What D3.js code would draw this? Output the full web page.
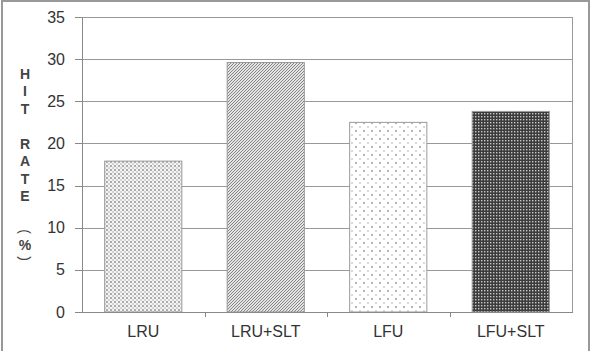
<!DOCTYPE html>
<html lang="en">
<head>
    <meta charset="UTF-8">
    <title>Hit Rate</title>
    <style>
        body {
            background-color: #ffffff;
            margin: 0;
            overflow: hidden;
            font-family: "Liberation Sans", Arial, sans-serif;
        }
        svg {
            display: block;
        }
        .axis text {
            font-size: 16px;
            fill: #333;
            font-family: "Liberation Sans", Arial, sans-serif;
        }
        .axis path, .axis line {
            fill: none;
            stroke: #888;
            shape-rendering: crispEdges;
        }
        .grid line {
            stroke: #999;
            shape-rendering: crispEdges;
        }
        .bar {
            stroke: #999;
            stroke-width: 1;
        }
        .title-char {
            font-size: 14px;
            font-weight: bold;
            fill: #444;
            text-anchor: middle;
        }
    </style>
</head>
<body>
    <svg id="chart"></svg>

    <script src="https://d3js.org/d3.v7.min.js"></script>
    <script>
        const categories = ["LRU", "LRU+SLT", "LFU", "LFU+SLT"];
        const hitRate = [17.9, 29.6, 22.5, 23.8];
        const yTicks = [0, 5, 10, 15, 20, 25, 30, 35];
        const yTitle = "HIT RATE (%)";

        const W = 592, H = 351;
        const margin = { top: 17, right: 20, bottom: 39, left: 82 },
              width = W - margin.left - margin.right,
              height = H - margin.top - margin.bottom;

        const root = d3.select("#chart")
            .attr("width", W)
            .attr("height", H);

        // fill patterns for each bar
        const defs = root.append("defs");

        const p1 = defs.append("pattern").attr("id", "pat0")
            .attr("patternUnits", "userSpaceOnUse").attr("width", 4).attr("height", 4);
        p1.append("rect").attr("width", 4).attr("height", 4).attr("fill", "#f4f4f4");
        p1.append("circle").attr("cx", 1).attr("cy", 1).attr("r", 0.9).attr("fill", "#8a8a8a");
        p1.append("circle").attr("cx", 3).attr("cy", 3).attr("r", 0.9).attr("fill", "#c4c4c4");

        const p2 = defs.append("pattern").attr("id", "pat1")
            .attr("patternUnits", "userSpaceOnUse").attr("width", 3).attr("height", 3);
        p2.append("rect").attr("width", 3).attr("height", 3).attr("fill", "#e4e4e4");
        p2.append("path").attr("d", "M-1,1 L1,-1 M0,3 L3,0 M2,4 L4,2")
            .attr("stroke", "#7a7a7a").attr("stroke-width", 0.9);

        const p3 = defs.append("pattern").attr("id", "pat2")
            .attr("patternUnits", "userSpaceOnUse").attr("width", 8).attr("height", 8);
        p3.append("rect").attr("width", 8).attr("height", 8).attr("fill", "#ffffff");
        p3.append("circle").attr("cx", 2).attr("cy", 2).attr("r", 0.8).attr("fill", "#555");
        p3.append("circle").attr("cx", 6).attr("cy", 6).attr("r", 0.8).attr("fill", "#aaa");

        const p4 = defs.append("pattern").attr("id", "pat3")
            .attr("patternUnits", "userSpaceOnUse").attr("width", 3).attr("height", 3);
        p4.append("rect").attr("width", 3).attr("height", 3).attr("fill", "#3c3c3c");
        p4.append("rect").attr("width", 1.4).attr("height", 1.4).attr("fill", "#c8c8c8");

        // outer frame
        root.append("rect")
            .attr("x", 2).attr("y", 1)
            .attr("width", 587).attr("height", 360)
            .attr("fill", "none")
            .attr("stroke", "#999")
            .attr("stroke-width", 2);

        const svg = root.append("g")
            .attr("transform", `translate(${margin.left},${margin.top})`);

        const x = d3.scaleBand()
            .domain(categories)
            .range([0, width])
            .paddingInner(0.37)
            .paddingOuter(0.185);

        const y = d3.scaleLinear()
            .domain([0, 35])
            .range([height, 0]);

        // gridlines
        svg.append("g")
            .attr("class", "grid")
            .selectAll("line")
            .data(yTicks.filter(d => d > 0))
            .enter().append("line")
            .attr("x1", 0)
            .attr("x2", width)
            .attr("y1", d => Math.round(y(d)) + 0.5)
            .attr("y2", d => Math.round(y(d)) + 0.5);

        // right border of plot area
        svg.append("line")
            .attr("x1", width + 0.5).attr("x2", width + 0.5)
            .attr("y1", 0).attr("y2", height)
            .attr("stroke", "#999")
            .style("shape-rendering", "crispEdges");

        // bars
        svg.selectAll(".bar")
            .data(hitRate)
            .enter().append("rect")
            .attr("class", "bar")
            .attr("x", (d, i) => x(categories[i]))
            .attr("y", d => y(d))
            .attr("width", x.bandwidth())
            .attr("height", d => height - y(d))
            .attr("fill", (d, i) => `url(#pat${i})`);

        // y axis
        svg.append("g")
            .attr("class", "y axis")
            .call(d3.axisLeft(y).tickValues(yTicks).tickSize(7).tickPadding(10).tickSizeOuter(0));

        // x axis with ticks at category boundaries
        const xAxis = svg.append("g")
            .attr("class", "x axis")
            .attr("transform", `translate(0,${height})`)
            .call(d3.axisBottom(x).tickSize(0).tickPadding(14).tickSizeOuter(0));
        xAxis.selectAll(".tick text").attr("dy", "0.71em");

        const step = x.step();
        xAxis.selectAll(".sep")
            .data(d3.range(1, categories.length))
            .enter().append("line")
            .attr("class", "sep")
            .attr("x1", d => Math.round(d * step) + 0.5)
            .attr("x2", d => Math.round(d * step) + 0.5)
            .attr("y1", 0).attr("y2", 5);

        // vertical stacked y title, one upright character per line
        const chars = yTitle.split("");
        let cy = 74;
        const title = root.append("g");
        chars.forEach(ch => {
            if (ch === " ") {
                cy += 17.5;
                return;
            }
            if (ch === "(" || ch === ")") {
                title.append("text")
                    .attr("class", "title-char")
                    .style("font-weight", "normal")
                    .attr("transform", `translate(25,${cy}) rotate(90)`)
                    .attr("dy", "0.35em")
                    .text(ch);
                cy += 14;
                return;
            }
            title.append("text")
                .attr("class", "title-char")
                .attr("x", 25)
                .attr("y", cy)
                .attr("dy", "0.35em")
                .text(ch);
            cy += ch === "%" ? 13 : 17.5;
        });
    </script>
</body>
</html>
